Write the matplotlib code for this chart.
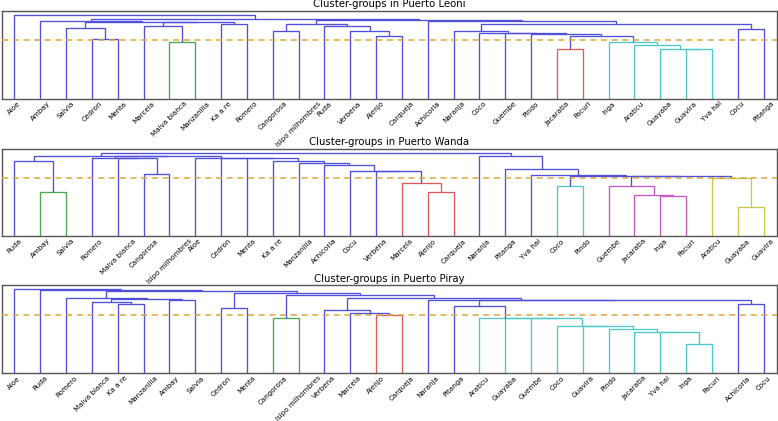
import matplotlib
matplotlib.use("Agg")
import matplotlib.pyplot as plt

# ---------------- data ----------------
titles = ["Cluster-groups in Puerto Leoni",
          "Cluster-groups in Puerto Wanda",
          "Cluster-groups in Puerto Piray"]

leoni_leaves = ["Aloe", "Ambay", "Salvia", "Cedron", "Menta", "Marcela", "Malva blanca",
                "Manzanilla", "Ka a re", "Romero", "Cangorosa", "Isipo milhombres", "Ruda",
                "Verbena", "Ajenjo", "Carqueja", "Achicoria", "Naranja", "Coco", "Guembe",
                "Pindo", "Jacaratia", "Pacuri", "Inga", "Araticu", "Guayaba", "Guavira",
                "Yva hai", "Cocu", "Pitanga"]
# merges: (left child, right child, height); str = leaf, int = earlier merge index
leoni_merges = [
    ("Cedron", "Menta", 177),            # 0
    ("Salvia", 0, 210),                  # 1
    ("Malva blanca", "Manzanilla", 168), # 2
    ("Marcela", 2, 217),                 # 3
    ("Ka a re", "Romero", 224),          # 4
    (3, 4, 229),                         # 5
    (1, 5, 230),                         # 6
    ("Ambay", 6, 231),                   # 7
    ("Cangorosa", "Isipo milhombres", 202),  # 8
    ("Ajenjo", "Carqueja", 187),         # 9
    ("Verbena", 9, 202),                 # 10
    ("Ruda", 10, 217),                   # 11
    (8, 11, 224),                        # 12
    ("Jacaratia", "Pacuri", 148),        # 13
    ("Guavira", "Yva hai", 147),         # 14
    ("Guayaba", 14, 149),                # 15
    ("Araticu", 15, 159),                # 16
    ("Inga", 16, 169),                   # 17
    (13, 17, 186),                       # 18
    ("Pindo", 18, 194),                  # 19
    ("Guembe", 19, 195),                 # 20
    ("Coco", 20, 196),                   # 21
    ("Naranja", 21, 201),                # 22
    ("Cocu", "Pitanga", 209),            # 23
    (22, 23, 224),                       # 24
    ("Achicoria", 24, 230.5),            # 25
    (12, 25, 233.5),                     # 26
    (7, 26, 237),                        # 27
    ("Aloe", 27, 250),                   # 28
]

wanda_leaves = ["Ruda", "Ambay", "Salvia", "Romero", "Malva blanca", "Cangorosa",
                "Isipo milhombres", "Aloe", "Cedron", "Menta", "Ka a re", "Manzanilla",
                "Achicoria", "Cocu", "Verbena", "Marcela", "Ajenjo", "Carqueja", "Naranja",
                "Pitanga", "Yva hai", "Coco", "Pindo", "Guembe", "Jacaratia", "Inga",
                "Pacuri", "Araticu", "Guayaba", "Guavira"]
wanda_merges = [
    ("Ambay", "Salvia", 133),            # 0
    ("Ruda", 0, 225),                    # 1
    ("Cangorosa", "Isipo milhombres", 187),  # 2
    ("Malva blanca", 2, 235),            # 3
    ("Romero", 3, 236),                  # 4
    ("Ajenjo", "Carqueja", 133),         # 5
    ("Marcela", 5, 158),                 # 6
    ("Verbena", 6, 194),                 # 7
    ("Cocu", 7, 195),                    # 8
    ("Achicoria", 8, 213),               # 9
    ("Manzanilla", 9, 219),              # 10
    ("Ka a re", 10, 225),                # 11
    ("Menta", 11, 235),                  # 12
    ("Cedron", 12, 235.5),               # 13
    ("Aloe", 13, 236),                   # 14
    (4, 14, 240),                        # 15
    (1, 15, 242),                        # 16
    ("Coco", "Pindo", 151),              # 17
    ("Inga", "Pacuri", 121),             # 18
    ("Jacaratia", 18, 122),              # 19
    ("Guembe", 19, 151),                 # 20
    ("Guayaba", "Guavira", 86),          # 21
    ("Araticu", 21, 174),                # 22
    (20, 22, 180),                       # 23
    (17, 23, 181),                       # 24
    ("Yva hai", 24, 182),                # 25
    ("Pitanga", 25, 200),                # 26
    ("Naranja", 26, 242),                # 27
    (16, 27, 250),                       # 28
]

piray_leaves = ["Aloe", "Ruda", "Romero", "Malva blanca", "Ka a re", "Manzanilla", "Ambay",
                "Salvia", "Cedron", "Menta", "Cangorosa", "Isipo milhombres", "Verbena",
                "Marcela", "Ajenjo", "Carqueja", "Naranja", "Pitanga", "Araticu", "Guayaba",
                "Guembe", "Coco", "Guavira", "Pindo", "Jacaratia", "Yva hai", "Inga",
                "Pacuri", "Achicoria", "Cocu"]
piray_merges = [
    ("Ka a re", "Manzanilla", 207),      # 0
    ("Malva blanca", 0, 213),            # 1
    ("Ambay", "Salvia", 219),            # 2
    (1, 2, 223),                         # 3
    ("Romero", 3, 225),                  # 4
    ("Cedron", "Menta", 194),            # 5
    ("Cangorosa", "Isipo milhombres", 165),  # 6
    ("Ajenjo", "Carqueja", 174),         # 7
    ("Marcela", 7, 180),                 # 8
    ("Verbena", 8, 188),                 # 9
    ("Inga", "Pacuri", 88),              # 10
    ("Yva hai", 10, 123),                # 11
    ("Jacaratia", 11, 124),              # 12
    ("Pindo", 12, 132),                  # 13
    ("Guavira", 13, 140),                # 14
    ("Coco", 14, 141),                   # 15
    ("Guembe", 15, 165),                 # 16
    ("Guayaba", 16, 165.5),              # 17
    ("Araticu", 17, 166),                # 18
    ("Pitanga", 18, 202),                # 19
    ("Achicoria", "Cocu", 207),          # 20
    (19, 20, 218),                       # 21
    ("Naranja", 21, 220),                # 22
    (9, 22, 224),                        # 23
    (6, 23, 233.5),                      # 24
    (5, 24, 240),                        # 25
    (4, 25, 246.5),                      # 26
    ("Ruda", 26, 248),                   # 27
    ("Aloe", 27, 250),                   # 28
]

panels = [(leoni_leaves, leoni_merges), (wanda_leaves, wanda_merges), (piray_leaves, piray_merges)]

# ---------------- style ----------------
ABOVE = "#4f4fdc"
PALETTE = ["#4ea64e", "#e05a5a", "#4cc8c8", "#c45ac4", "#c8c84a"]
THRESH_COLOR = "#dba83c"
LW = 0.95

W, H, DPI = 778, 421, 100
fig = plt.figure(figsize=(W / DPI, H / DPI), dpi=DPI)

# axes boxes in pixels: (left, top, right, bottom)
boxes = [(1.5, 10.7, 776.5, 98.7), (1.5, 148.7, 776.5, 236.0), (1.5, 285.3, 776.5, 373.3)]


def draw_dendrogram(ax, leaves, merges):
    pos = {name: 5 + 10 * i for i, name in enumerate(leaves)}
    node_x = []

    def get(ref):
        if isinstance(ref, str):
            return pos[ref], 0.0
        return node_x[ref], merges[ref][2]

    for a, b, h in merges:
        xa, _ = get(a)
        xb, _ = get(b)
        node_x.append((xa + xb) / 2.0)

    hmax = max(m[2] for m in merges)
    thr = 0.7 * hmax
    colors = [None] * len(merges)
    counter = [0]

    def assign(k, col):
        a, b, h = merges[k]
        if col is None and h < thr:
            col = PALETTE[counter[0] % len(PALETTE)]
            counter[0] += 1
        colors[k] = col if col is not None else ABOVE
        for ch in (a, b):
            if not isinstance(ch, str):
                assign(ch, col)

    assign(len(merges) - 1, None)

    for k, (a, b, h) in enumerate(merges):
        xa, ha = get(a)
        xb, hb = get(b)
        ax.plot([xa, xa, xb, xb], [ha, h, h, hb], color=colors[k], lw=LW,
                solid_capstyle="butt", solid_joinstyle="miter", zorder=2)

    n = len(leaves)
    ax.set_xlim(0, 10 * n)
    ax.set_ylim(0, hmax * 1.05)
    ax.axhline(thr, color=THRESH_COLOR, lw=1.1, ls=(0, (4, 3)), zorder=3)
    ax.set_xticks([5 + 10 * i for i in range(n)])
    ax.set_xticklabels(leaves, rotation=45, ha="center", fontsize=5.15)
    ax.set_yticks([])
    ax.tick_params(axis="x", length=0, pad=1.2)
    for sp in ax.spines.values():
        sp.set_color("#555555")
        sp.set_linewidth(1.0)


for (leaves, merges), title, (l, t, r, b) in zip(panels, titles, boxes):
    ax = fig.add_axes([l / W, (H - b) / H, (r - l) / W, (b - t) / H])
    draw_dendrogram(ax, leaves, merges)
    ax.set_title(title, fontsize=7.3, pad=2.5)

fig.savefig("out.png", dpi=DPI)
